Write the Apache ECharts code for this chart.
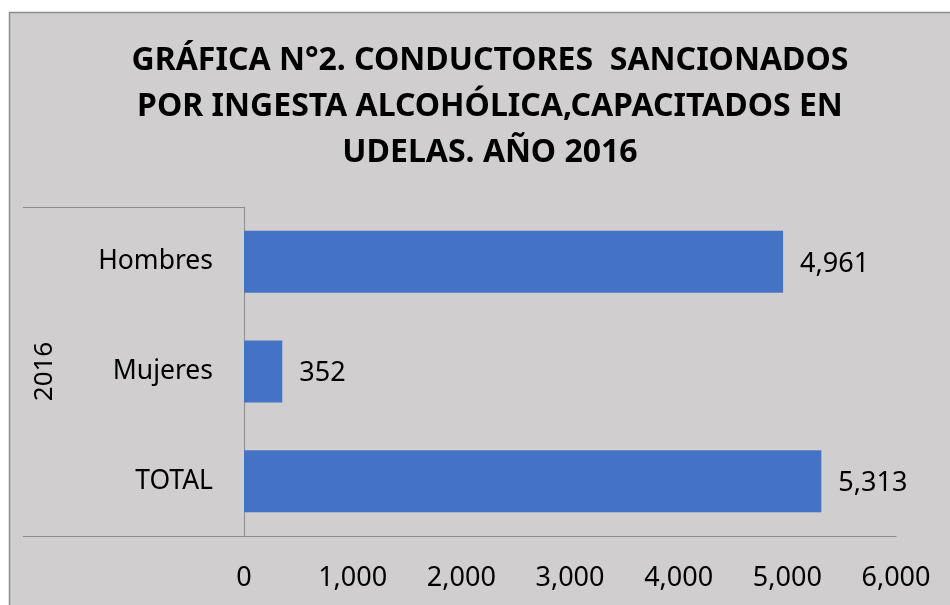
<!DOCTYPE html>
<html>
<head>
<meta charset="utf-8">
<script src="https://cdn.jsdelivr.net/npm/echarts@6/dist/echarts.min.js"></script>
<style>
html,body{margin:0;padding:0;background:#fff;}
#c{width:950px;height:605px;}
</style>
</head>
<body>
<div id="c"></div>
<script>
const titleLines = ['GRÁFICA N°2. CONDUCTORES  SANCIONADOS', 'POR INGESTA ALCOHÓLICA,CAPACITADOS EN', 'UDELAS. AÑO 2016'];
const groupLabel = '2016';
const categories = ['Hombres', 'Mujeres', 'TOTAL'];
const values = [4961, 352, 5313];
const xMin = 0, xMax = 6000, xStep = 1000;

const FONT = '"Noto Sans", "Open Sans", sans-serif';
const fmt = v => Number(v).toLocaleString('en-US');
const chart = echarts.init(document.getElementById('c'));
const LINE = '#8c8c8c';

const option = {
  backgroundColor: '#ffffff',
  animation: false,
  title: {
    text: titleLines.join('\n'),
    left: 485,
    top: 33,
    textAlign: 'center',
    textStyle: {fontFamily: FONT, fontWeight: 'bold', fontSize: 32, lineHeight: 46, color: '#000'}
  },
  grid: {left: 244, right: 54, top: 207, bottom: 69, containLabel: false},
  xAxis: {
    type: 'value', min: xMin, max: xMax, interval: xStep,
    axisLine: {show: true, lineStyle: {color: LINE, width: 1}},
    axisTick: {show: false},
    splitLine: {show: false},
    axisLabel: {fontFamily: FONT, fontSize: 27, color: '#000', margin: 29, formatter: fmt}
  },
  yAxis: {
    type: 'category', data: categories, inverse: true,
    axisLine: {show: true, lineStyle: {color: LINE, width: 1}},
    axisTick: {show: false},
    axisLabel: {fontFamily: FONT, fontSize: 26.5, color: '#000', margin: 31, padding: [5, 0, 0, 0]}
  },
  series: [{
    type: 'bar', data: values, barWidth: 62,
    itemStyle: {color: '#4472c4'},
    label: {show: true, position: 'right', distance: 17, offset: [0, 2], fontFamily: FONT, fontSize: 27, color: '#000', formatter: p => fmt(p.value)}
  }]
};
chart.setOption(option);

// frame and multi-level category lines tied to axis positions
const x0 = chart.convertToPixel({gridIndex: 0}, [xMin, 0])[0];
const yTop = 207, yBot = 605 - 69;
chart.setOption({
  graphic: {elements: [
    {type: 'rect', z: -100, silent: true, shape: {x: 9.5, y: 12.5, width: 960, height: 620}, style: {fill: '#d0cece', stroke: LINE, lineWidth: 1.5}},
    {type: 'line', z: 10, shape: {x1: 23, y1: yTop + 0.5, x2: x0, y2: yTop + 0.5}, style: {stroke: LINE, lineWidth: 1}},
    {type: 'line', z: 10, shape: {x1: 23, y1: yBot + 0.5, x2: x0, y2: yBot + 0.5}, style: {stroke: LINE, lineWidth: 1}},
    {type: 'text', z: 10, x: 45, y: (yTop + yBot) / 2, rotation: Math.PI / 2,
      style: {text: groupLabel, fontFamily: FONT, fontSize: 26, fill: '#000', textAlign: 'center', textVerticalAlign: 'middle'}}
  ]}
});
</script>
</body>
</html>
